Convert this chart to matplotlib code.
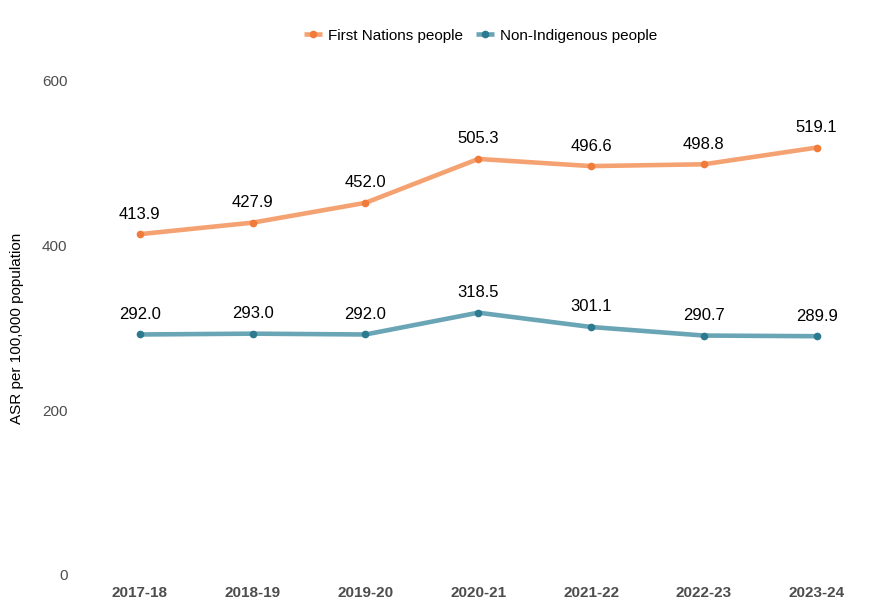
import matplotlib.pyplot as plt

plt.rcParams['font.family'] = ['Liberation Sans', 'DejaVu Sans']

years = ['2017-18', '2018-19', '2019-20', '2020-21', '2021-22', '2022-23', '2023-24']
first_nations = [413.9, 427.9, 452.0, 505.3, 496.6, 498.8, 519.1]
non_indigenous = [292.0, 293.0, 292.0, 318.5, 301.1, 290.7, 289.9]

fig = plt.figure(figsize=(8.9, 6), dpi=100)
ax = fig.add_axes([0.090, 0.042, 0.891, 0.823])

x = range(len(years))
series = [
    ('First Nations people', first_nations, '#F5A272', '#F07B3A'),
    ('Non-Indigenous people', non_indigenous, '#6AA5B6', '#2B7A90'),
]
for name, vals, lc, mc in series:
    ax.plot(x, vals, color=lc, lw=3.3, marker='o', ms=4.5, mfc=mc, mec=mc,
            label=name, solid_capstyle='butt')
    for xi, v in zip(x, vals):
        ax.annotate(f'{v:.1f}', (xi, v), xytext=(0, 9), textcoords='offset points',
                    ha='center', va='bottom', fontsize=12, color='black')

ax.set_xlim(-0.53, 6.5)
ax.set_ylim(0, 600)
ax.set_yticks([0, 200, 400, 600])
ax.set_xticks(list(x))
ax.set_xticklabels(years, fontweight='bold')
ax.tick_params(length=0, labelsize=11, labelcolor='#4D4D4D', pad=8)
ax.tick_params(axis='y', pad=9)
for s in ax.spines.values():
    s.set_visible(False)
ax.set_ylabel('ASR per 100,000 population', fontsize=11, color='black', labelpad=13)

fig.legend(loc='upper center', bbox_to_anchor=(0.54, 0.975), ncol=2, frameon=False,
           fontsize=11, handlelength=1.2, handletextpad=0.4, columnspacing=0.8)

fig.savefig('out.png', dpi=100)
